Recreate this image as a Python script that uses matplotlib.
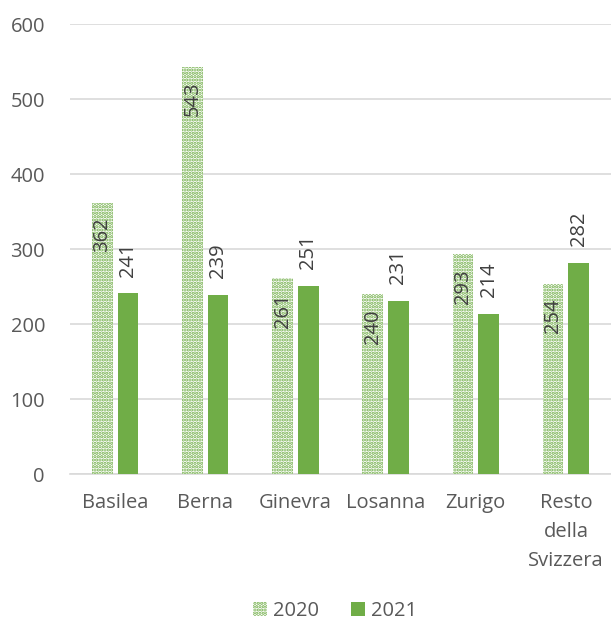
import numpy as np
import matplotlib
matplotlib.use("Agg")
import matplotlib.pyplot as plt
from matplotlib.patches import Patch

plt.rcParams['font.family'] = ['Open Sans', 'DejaVu Sans']
plt.rcParams['hatch.linewidth'] = 1.6

citta = ["Basilea", "Berna", "Ginevra", "Losanna", "Zurigo", "Resto\ndella\nSvizzera"]
valori_2020 = [362, 543, 261, 240, 293, 254]
valori_2021 = [241, 239, 251, 231, 214, 282]

verde = "#70AD47"
grigio_testo = "#595959"
grigio_griglia = "#D9D9D9"

fig = plt.figure(figsize=(6.11, 6.28), dpi=100)
ax = fig.add_axes([70 / 611, 1 - 474 / 628, 541 / 611, 450 / 628])

x = np.arange(len(citta))
larghezza = 0.23
off = 0.142
fs = 14.5

b1 = ax.bar(x - off, valori_2020, larghezza, color="white", edgecolor=verde,
            hatch=".....", linewidth=0, zorder=3)
b2 = ax.bar(x + off, valori_2021, larghezza, color=verde, linewidth=0, zorder=3)

# etichette: 2020 dentro in alto, 2021 sopra la barra
for xi, v in zip(x, valori_2020):
    ax.text(xi - off, v - 20, str(v), rotation=90, ha="center", va="top",
            fontsize=fs, color="#404040", zorder=4)
for xi, v in zip(x, valori_2021):
    ax.text(xi + off, v + 22, str(v), rotation=90, ha="center", va="bottom",
            fontsize=fs, color="#404040", zorder=4)

ax.set_xlim(-0.5, len(citta) - 0.5)
ax.set_ylim(0, 600)
ax.set_yticks(range(0, 601, 100))
ax.yaxis.grid(True, color=grigio_griglia, linewidth=1.2, zorder=0)
ax.set_xticks(x)
ax.set_xticklabels(citta, fontsize=fs, color=grigio_testo, linespacing=1.6)
ax.tick_params(axis="y", length=0, pad=18, labelsize=fs, labelcolor=grigio_testo)
ax.tick_params(axis="x", length=0, pad=14)
for s in ["top", "right", "left"]:
    ax.spines[s].set_visible(False)
ax.spines["bottom"].set_color(grigio_griglia)
ax.spines["bottom"].set_linewidth(1.2)

maniglie = [Patch(facecolor="white", edgecolor=verde, hatch=".....", linewidth=0, label="2020"),
            Patch(facecolor=verde, linewidth=0, label="2021")]
fig.legend(handles=maniglie, loc="center", bbox_to_anchor=(335 / 611, 1 - 611 / 628),
           ncol=2, frameon=False, fontsize=fs, labelcolor=grigio_testo,
           handlelength=0.7, handleheight=0.7, handletextpad=0.3, columnspacing=1.6)

fig.savefig("out.png", dpi=100)
